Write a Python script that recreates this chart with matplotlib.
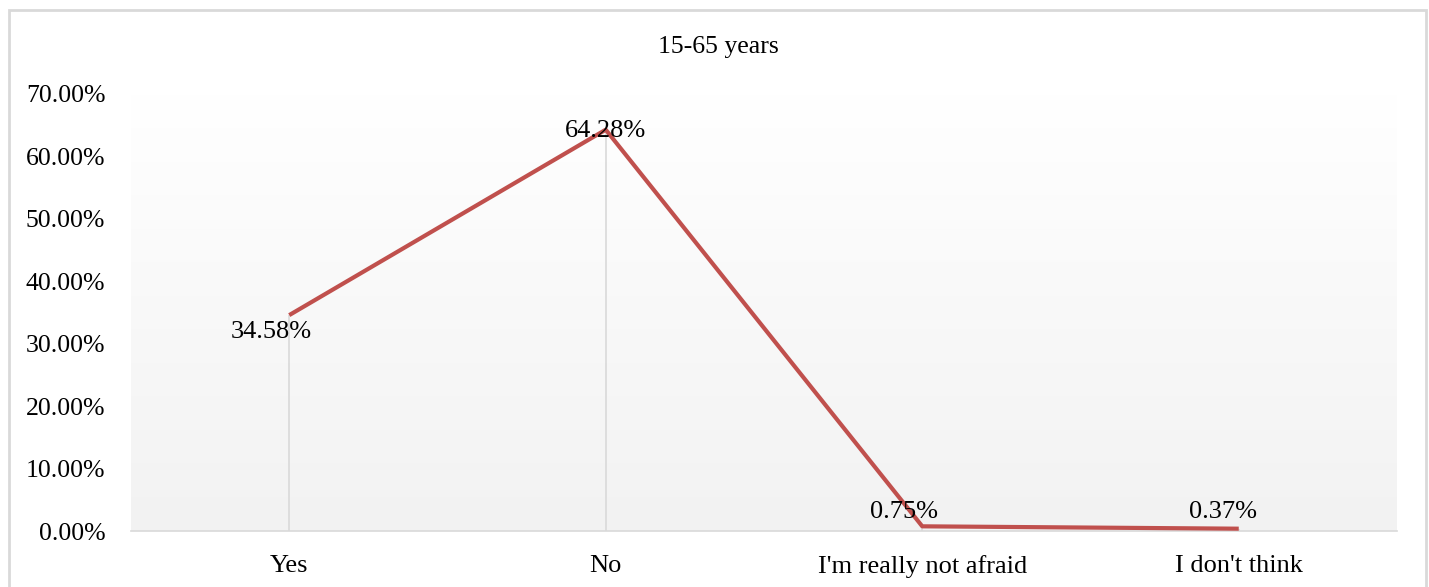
import matplotlib
matplotlib.use("Agg")
import matplotlib.pyplot as plt
import numpy as np
from matplotlib.patches import Rectangle
from matplotlib.colors import LinearSegmentedColormap

categories = ["Yes", "No", "I'm really not afraid", "I don't think"]
values = [34.58, 64.28, 0.75, 0.37]
labels = ["34.58%", "64.28%", "0.75%", "0.37%"]
yticks = [0, 10, 20, 30, 40, 50, 60, 70]

plt.rcParams['font.family'] = ['Liberation Serif', 'DejaVu Serif']

fig = plt.figure(figsize=(14.29, 5.87), dpi=100)
ax = fig.add_axes([131/1429, 56/587, 1266/1429, 437/587])

# outer chart frame
fig.patches.append(Rectangle((9/1429, -0.05), 1417/1429, 1.05 - 10/587,
                             transform=fig.transFigure, fill=False,
                             edgecolor='#d9d9d9', linewidth=2))

# gradient background
grad = np.linspace(0, 1, 256).reshape(-1, 1)
cmap = LinearSegmentedColormap.from_list('bg', ['#f2f2f2', '#ffffff'])
ax.imshow(grad, cmap=cmap, aspect='auto', extent=[0, 1, 0, 1],
          transform=ax.transAxes, origin='lower', zorder=0)

x = np.arange(len(categories))
ax.vlines(x, 0, values, color='#d9d9d9', linewidth=1.2, zorder=1)
ax.plot(x, values, color='#c0504d', linewidth=3, zorder=3,
        solid_capstyle='butt')

offsets = [(-18, -17), (0, -1), (-18, 14), (-16, 17)]
for xi, v, lab, (dx, dy) in zip(x, values, labels, offsets):
    ax.annotate(lab, (xi, v), xytext=(dx, dy), textcoords='offset pixels',
                ha='center', va='center', fontsize=19, color='black', zorder=4)

ax.set_xlim(-0.5, 3.5)
ax.set_ylim(0, 70)
ax.set_yticks(yticks)
ax.set_yticklabels([f"{t:.2f}%" for t in yticks], fontsize=18.5)
ax.set_xticks(x)
ax.set_xticklabels(categories, fontsize=19)
ax.tick_params(length=0)
ax.tick_params(axis='x', pad=17)
ax.tick_params(axis='y', pad=18.5)
for s in ['top', 'right', 'left']:
    ax.spines[s].set_visible(False)
ax.spines['bottom'].set_color('#d9d9d9')
ax.spines['bottom'].set_linewidth(1.2)

fig.text(718/1429, 1 - 47/587, "15-65 years", ha='center', va='center',
         fontsize=18.5)

fig.savefig("out.png", dpi=100)
